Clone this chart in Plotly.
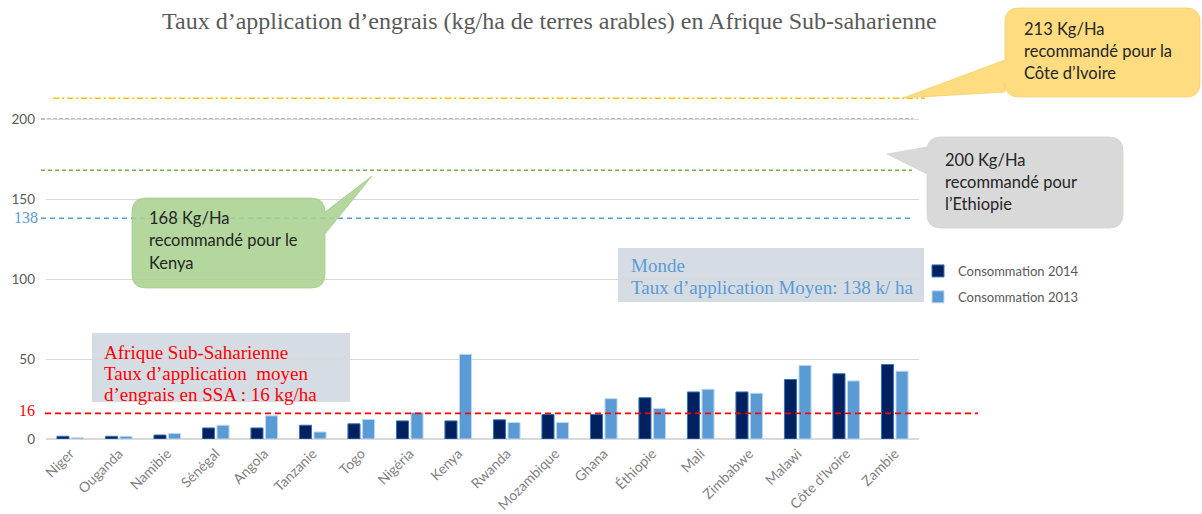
import plotly.graph_objects as go

# Data (kg/ha of arable land)
COUNTRIES = [
    "Niger", "Ouganda", "Namibie", "Sénégal", "Angola", "Tanzanie", "Togo",
    "Nigéria", "Kenya", "Rwanda", "Mozambique", "Ghana", "Éthiopie", "Mali",
    "Zimbabwe", "Malawi", "Côte d'Ivoire", "Zambie",
]
CONSO_2014 = [1.7, 1.7, 2.5, 6.9, 6.9, 8.6, 9.5, 11.3, 11.3, 12.0, 15.3, 15.3,
              25.8, 29.4, 29.4, 37.2, 40.8, 46.6]
CONSO_2013 = [0.8, 1.7, 3.4, 8.6, 14.5, 4.4, 12.2, 16.6, 52.9, 10.3, 10.3, 25.2,
              19.1, 31.1, 28.6, 46.0, 36.3, 42.4]

# Reference levels (kg/ha)
SSA_MEAN = 16
WORLD_MEAN = 138
KENYA_REC = 168
ETHIOPIA_REC = 200
CIV_REC = 213

Y_TICKS = [0, 50, 100, 150, 200]

# Colours
DARK_BLUE = "#002060"
MID_BLUE = "#5B9BD5"
GREY_TEXT = "#595959"
GRID = "#D9D9D9"

# Pixel layout of the 1202x514 canvas
W, H = 1202, 514
L, R, T, B = 46, 919, 39, 439


def X(px):
    return (px - L) / (R - L)


def Y(py):
    return (B - py) / (B - T)


def bubble(x0, y0, x1, y1, r, edge=None, t0=0, t1=0, tip=None):
    """Rounded rectangle (pixel coords) with an optional callout tail."""
    def p(x, y):
        return f"{X(x):.5f},{Y(y):.5f}"

    c = [f"M{p(x0 + r, y0)}", f"L{p(x1 - r, y0)}", f"Q{p(x1, y0)} {p(x1, y0 + r)}"]
    if edge == "right":
        c += [f"L{p(x1, t0)}", f"L{p(*tip)}", f"L{p(x1, t1)}"]
    c += [f"L{p(x1, y1 - r)}", f"Q{p(x1, y1)} {p(x1 - r, y1)}", f"L{p(x0 + r, y1)}",
          f"Q{p(x0, y1)} {p(x0, y1 - r)}"]
    if edge == "left":
        c += [f"L{p(x0, t1)}", f"L{p(*tip)}", f"L{p(x0, t0)}"]
    c += [f"L{p(x0, y0 + r)}", f"Q{p(x0, y0)} {p(x0 + r, y0)}", "Z"]
    return " ".join(c)


fig = go.Figure()

fig.add_trace(
    go.Bar(
        name="Consommation 2014",
        x=COUNTRIES,
        y=CONSO_2014,
        marker=dict(color=DARK_BLUE, line=dict(color="#2E75B6", width=1)),
        legendgroup="a",
    )
)
fig.add_trace(
    go.Bar(
        name="Consommation 2013",
        x=COUNTRIES,
        y=CONSO_2013,
        marker=dict(color=MID_BLUE, line=dict(color="#BDD7EE", width=1)),
        legendgroup="b",
    )
)

shapes = []

# Reference lines
ref_lines = [
    (CIV_REC, "#FFC000", "6px,3px,2px,3px", 53, 925, "below", 1.4),
    (ETHIOPIA_REC, "#A6A6A6", "4px,2px", 41, 913, "below", 1.4),
    (KENYA_REC, "#70AD47", "4px,3px", 41, 912, "below", 1.4),
    (WORLD_MEAN, MID_BLUE, "5px,4px", 41, 910, "below", 1.4),
    (SSA_MEAN, "#FF0000", "6px,4px", 45, 978, "above", 1.6),
]
for val, col, dash, xs, xe, layer, lw in ref_lines:
    shapes.append(dict(
        type="line", xref="paper", yref="y", x0=X(xs), x1=X(xe), y0=val, y1=val,
        line=dict(color=col, width=lw, dash=dash), layer=layer,
    ))

# Callouts
shapes.append(dict(
    type="path", xref="paper", yref="paper", layer="above",
    path=bubble(1005, 8, 1200, 97, 14, "left", 60, 92, (903, 98)),
    fillcolor="#FFDC80", line=dict(color="#F2CF6E", width=0.8),
))
shapes.append(dict(
    type="path", xref="paper", yref="paper", layer="above",
    path=bubble(927, 137, 1123, 228, 14, "left", 147, 174, (887, 154)),
    fillcolor="#D9D9D9", line=dict(color="#CFD8C8", width=0.8),
))
shapes.append(dict(
    type="path", xref="paper", yref="paper", layer="above",
    path=bubble(132, 198, 325, 288, 14, "right", 212, 234, (372, 176)),
    fillcolor="rgba(169,209,142,0.88)", line=dict(color="rgba(160,200,135,0.9)", width=0.8),
))

# Info boxes
shapes.append(dict(
    type="rect", xref="paper", yref="paper", layer="below",
    x0=X(618), x1=X(924), y0=Y(302), y1=Y(248),
    fillcolor="#D6DCE4", line=dict(width=0),
))
shapes.append(dict(
    type="rect", xref="paper", yref="paper", layer="below",
    x0=X(92), x1=X(350), y0=Y(402), y1=Y(333),
    fillcolor="#D6DCE4", line=dict(width=0),
))

annotations = []


def text_lines(lines, x, y0, step, size, color, family):
    for i, line in enumerate(lines):
        annotations.append(dict(
            text=line, xref="paper", yref="paper", x=X(x), y=Y(y0 + i * step),
            xanchor="left", yanchor="middle", showarrow=False,
            font=dict(size=size, color=color, family=family),
        ))


SANS = "Lato, 'Open Sans', sans-serif"
SERIF = "'Liberation Serif', 'DejaVu Serif', serif"

text_lines(["213 Kg/Ha", "recommandé pour la", "Côte d’Ivoire"], 1022, 29, 22, 16.5, "#262626", SANS)
text_lines(["200 Kg/Ha", "recommandé pour", "l’Ethiopie"], 943, 160, 22, 16.5, "#262626", SANS)
text_lines(["168 Kg/Ha", "recommandé pour le", "Kenya"], 147, 218, 22.5, 16.5, "#262626", SANS)
text_lines(["Monde", "Taux d’application Moyen: 138 k/ ha"], 629, 265, 22, 19, MID_BLUE, SERIF)
text_lines(["Afrique Sub-Saharienne", "Taux d’application  moyen",
            "d’engrais en SSA : 16 kg/ha"], 102, 352, 21, 19, "#FF0000", SERIF)

# Highlighted axis values
annotations.append(dict(
    text=str(SSA_MEAN), xref="paper", yref="paper", x=X(37), y=Y(410),
    xanchor="right", yanchor="middle", showarrow=False,
    font=dict(size=16, color="#FF0000", family=SERIF),
))
annotations.append(dict(
    text=str(WORLD_MEAN), xref="paper", yref="y", x=X(40), y=WORLD_MEAN, yshift=1,
    xanchor="right", yanchor="middle", showarrow=False,
    font=dict(size=16, color=MID_BLUE, family=SERIF),
))

# Title
annotations.append(dict(
    text="Taux d’application d’engrais (kg/ha de terres arables) en Afrique Sub-saharienne",
    xref="paper", yref="paper", x=X(549), y=Y(21), xanchor="center", yanchor="middle",
    showarrow=False, font=dict(size=24, color=GREY_TEXT, family=SERIF),
))

fig.update_layout(
    width=W,
    height=H,
    margin=dict(l=L, r=W - R, t=T, b=H - B, autoexpand=False),
    paper_bgcolor="white",
    plot_bgcolor="white",
    barmode="group",
    bargap=0.4,
    bargroupgap=0.17,
    shapes=shapes,
    annotations=annotations,
    font=dict(family=SANS, color=GREY_TEXT),
    legend=dict(
        x=X(918), y=Y(256), xanchor="left", yanchor="top",
        font=dict(size=13, color=GREY_TEXT), tracegroupgap=6,
        bgcolor="rgba(0,0,0,0)",
    ),
    showlegend=True,
)

fig.update_xaxes(
    tickangle=-45,
    tickfont=dict(size=14, color="#7F7F7F"),
    showline=True,
    linecolor=GRID,
    showgrid=False,
    ticks="",
)
fig.update_yaxes(
    range=[0, 250],
    tickvals=Y_TICKS,
    tickfont=dict(size=13.5, color=GREY_TEXT),
    gridcolor=GRID,
    zeroline=True,
    zerolinecolor=GRID,
    ticks="",
    ticklabelstandoff=10,
)

fig.write_html(
    "out.html",
    config={"displayModeBar": False},
    post_script="document.body.style.margin = '0';",
)
